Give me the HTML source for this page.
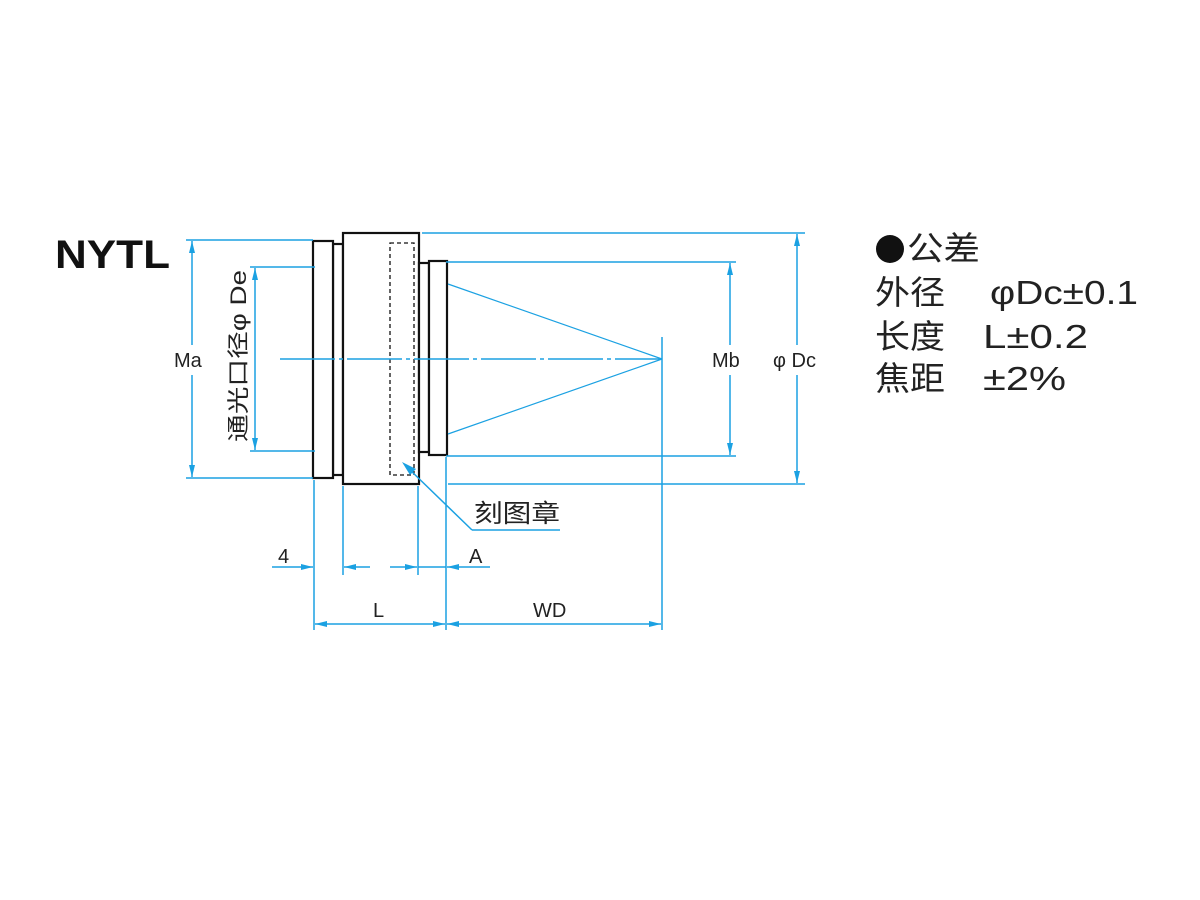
<!DOCTYPE html>
<html><head><meta charset="utf-8"><style>
html,body{margin:0;padding:0;background:#fff;}
svg{display:block;}
</style></head><body>
<svg width="1200" height="900" viewBox="0 0 1200 900" xmlns="http://www.w3.org/2000/svg">
<defs>
<marker id="a" viewBox="0 0 12 6" refX="12" refY="3" markerWidth="12" markerHeight="6" orient="auto-start-reverse" markerUnits="userSpaceOnUse"><path d="M0,0 L12,3 L0,6 Z" fill="#1ba1e2"/></marker>
</defs>
<rect width="1200" height="900" fill="#fff"/>
<text x="55" y="268" font-family="Liberation Sans, sans-serif" font-weight="bold" font-size="40" fill="#111" textLength="115" lengthAdjust="spacingAndGlyphs">NYTL</text>

<g stroke="#111" stroke-width="2.2" fill="#fff">
<rect x="333" y="244" width="10" height="231"/>
<rect x="313" y="241" width="20" height="237"/>
<rect x="343" y="233" width="76" height="251"/>
<rect x="419" y="263" width="10" height="189"/>
<rect x="429" y="261" width="18" height="194"/>
</g>
<rect x="390" y="243" width="24" height="232" fill="none" stroke="#111" stroke-width="1.3" stroke-dasharray="4,3"/>

<g stroke="#1ba1e2" stroke-width="1.5" fill="none">
<line x1="186" y1="240" x2="313" y2="240"/>
<line x1="186" y1="478" x2="313" y2="478"/>
<line x1="192" y1="241" x2="192" y2="345" marker-start="url(#a)"/>
<line x1="192" y1="375" x2="192" y2="477" marker-end="url(#a)"/>
<line x1="250" y1="267" x2="315" y2="267"/>
<line x1="250" y1="451" x2="315" y2="451"/>
<line x1="255" y1="268" x2="255" y2="450" marker-start="url(#a)" marker-end="url(#a)"/>
<line x1="280" y1="359" x2="662" y2="359" stroke-dasharray="55,4,4,4"/>
<line x1="422" y1="233" x2="805" y2="233"/>
<line x1="448" y1="484" x2="805" y2="484"/>
<line x1="797" y1="234" x2="797" y2="345" marker-start="url(#a)"/>
<line x1="797" y1="375" x2="797" y2="483" marker-end="url(#a)"/>
<line x1="446" y1="262" x2="736" y2="262"/>
<line x1="446" y1="456" x2="736" y2="456"/>
<line x1="730" y1="263" x2="730" y2="345" marker-start="url(#a)"/>
<line x1="730" y1="375" x2="730" y2="455" marker-end="url(#a)"/>
<line x1="448" y1="284" x2="662" y2="359" stroke-width="1.2"/>
<line x1="448" y1="434" x2="662" y2="359" stroke-width="1.2"/>
<line x1="662" y1="337" x2="662" y2="630"/>
<line x1="314" y1="480" x2="314" y2="630"/>
<line x1="343" y1="486" x2="343" y2="575"/>
<line x1="418" y1="486" x2="418" y2="575"/>
<line x1="446" y1="457" x2="446" y2="630"/>
<line x1="272" y1="567" x2="313" y2="567" marker-end="url(#a)"/>
<line x1="370" y1="567" x2="344" y2="567" marker-end="url(#a)"/>
<line x1="390" y1="567" x2="417" y2="567" marker-end="url(#a)"/>
<line x1="490" y1="567" x2="447" y2="567" marker-end="url(#a)"/>
<line x1="418" y1="567" x2="446" y2="567"/>
<line x1="315" y1="624" x2="445" y2="624" marker-start="url(#a)" marker-end="url(#a)"/>
<line x1="447" y1="624" x2="661" y2="624" marker-start="url(#a)" marker-end="url(#a)"/>
<line x1="408" y1="468" x2="472" y2="530"/>
<line x1="472" y1="530" x2="560" y2="530"/>
</g>
<polygon points="402,462 416,469 410,475" fill="#1ba1e2"/>

<g font-family="Liberation Sans, 'Noto Sans CJK SC', sans-serif" fill="#222">
<text x="174" y="367" font-size="20">Ma</text>
<text x="712" y="367" font-size="20">Mb</text>
<text x="773" y="367" font-size="20">φ Dc</text>
<text x="278" y="563" font-size="20">4</text>
<text x="469" y="563" font-size="20">A</text>
<text x="373" y="617" font-size="20">L</text>
<text x="533" y="617" font-size="20">WD</text>
<text x="474" y="522" font-size="25" textLength="86" lengthAdjust="spacingAndGlyphs">刻图章</text>
<text transform="translate(246,442) rotate(-90)" font-size="22" textLength="172" lengthAdjust="spacingAndGlyphs">通光口径φ De</text>
</g>

<circle cx="890" cy="249" r="14" fill="#111"/>
<g font-family="Liberation Sans, 'Noto Sans CJK SC', sans-serif" fill="#222" font-size="33">
<text x="907" y="260" textLength="73" lengthAdjust="spacingAndGlyphs">公差</text>
<text x="875" y="304" textLength="70" lengthAdjust="spacingAndGlyphs">外径</text><text x="990" y="304" textLength="148" lengthAdjust="spacingAndGlyphs">φDc±0.1</text>
<text x="875" y="348" textLength="70" lengthAdjust="spacingAndGlyphs">长度</text><text x="983" y="348" textLength="105" lengthAdjust="spacingAndGlyphs">L±0.2</text>
<text x="875" y="390" textLength="70" lengthAdjust="spacingAndGlyphs">焦距</text><text x="983" y="390" textLength="83" lengthAdjust="spacingAndGlyphs">±2%</text>
</g>
</svg>
</body></html>
